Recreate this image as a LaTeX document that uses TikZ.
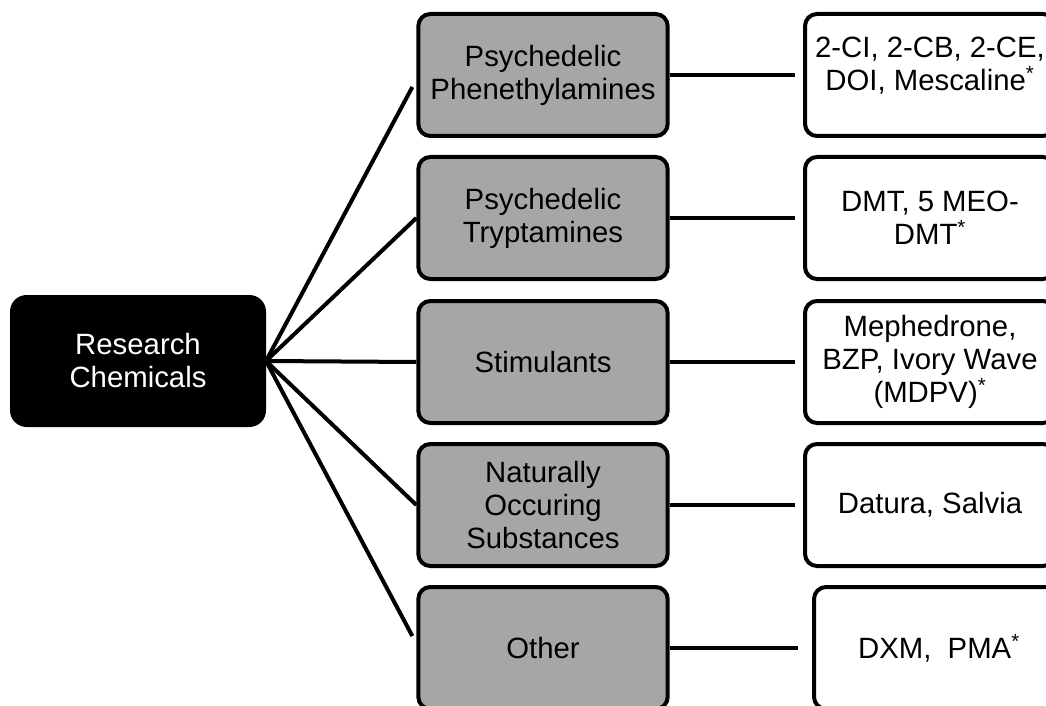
\documentclass[tikz,border=0pt]{standalone}
\usepackage{fontspec}
\setmainfont{Liberation Sans}
\usepackage{tikz}
\usetikzlibrary{shapes,arrows,positioning,fit}
\definecolor{BoxGray}{HTML}{A6A6A6}

\begin{document}
\begin{tikzpicture}[x=0.75pt,y=-0.75pt]
		\tikzstyle{Box}		= [rectangle, draw, line width=3pt, rounded corners=9pt, align=center, inner sep=0pt, font=\fontsize{22}{24.75}\selectfont]
		\tikzstyle{Root}	= [Box, fill=black, text=white, rounded corners=11pt, minimum width=189pt, minimum height=96pt]
		\tikzstyle{Class}	= [Box, fill=BoxGray, minimum width=187pt, minimum height=91.5pt]
		\tikzstyle{Drug}	= [Box, fill=white, minimum width=187.5pt, minimum height=91.5pt]
		\tikzstyle{Link}	= [line width=3pt]
		
		\useasboundingbox (0,0) rectangle (1046,706);
		\clip (0,0) rectangle (1046,706);
		
		\node (rc) at (138,361) [Root] {Research\\Chemicals};
		
		\node (c1) at (543,75) [Class] {Psychedelic\\Phenethylamines};
		\node (c2) at (543,218) [Class] {Psychedelic\\Tryptamines};
		\node (c3) at (543,362) [Class] {Stimulants};
		\node (c4) at (543,505) [Class] {Naturally\\Occuring\\Substances};
		\node (c5) at (543,648) [Class] {Other};
		
		\node (d1) at (930,75) [Drug] {2-CI, 2-CB, 2-CE,\\DOI, Mescaline\textsuperscript{*}\\[-8pt]\mbox{}};
		\node (d2) at (930,218) [Drug] {DMT, 5 MEO-\\DMT\textsuperscript{*}};
		\node (d3) at (930,362) [Drug] {Mephedrone,\\BZP, Ivory Wave\\(MDPV)\textsuperscript{*}};
		\node (d4) at (930,505) [Drug] {Datura, Salvia};
		\node (d5) at (939,648) [Drug] {DXM,\ \ PMA\textsuperscript{*}};
		
		\draw [-] (rc.east) to ([xshift=-3pt,yshift=-9pt]c1.west) [Link];
		\draw [-] (rc.east) to (c2.west) [Link];
		\draw [-] (rc.east) to (c3.west) [Link];
		\draw [-] (rc.east) to (c4.west) [Link];
		\draw [-] (rc.east) to ([xshift=-3pt,yshift=9pt]c5.west) [Link];
		
		\draw [-] (c1.east) to ([xshift=-6pt]d1.west) [Link];
		\draw [-] (c2.east) to ([xshift=-6pt]d2.west) [Link];
		\draw [-] (c3.east) to ([xshift=-6pt]d3.west) [Link];
		\draw [-] (c4.east) to ([xshift=-6pt]d4.west) [Link];
		\draw [-] (c5.east) to ([xshift=-10.5pt]d5.west) [Link];
	\end{tikzpicture}
\end{document}
